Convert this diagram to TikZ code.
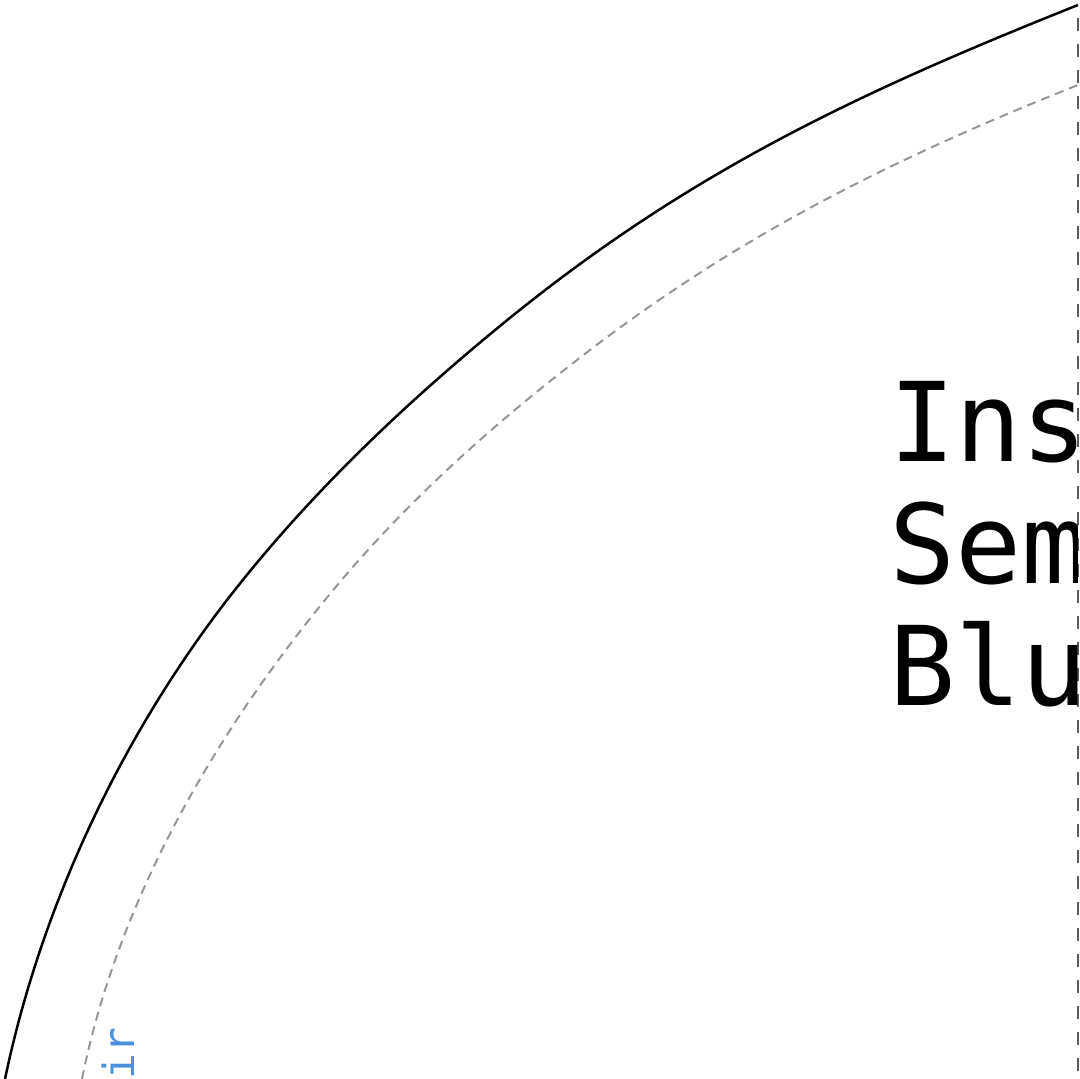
\documentclass[tikz,border=0pt]{standalone}
\usepackage{fontspec}
\newfontfamily\monofont{DejaVu Sans Mono}
\definecolor{curvegray}{RGB}{150,150,150}
\definecolor{axisgray}{RGB}{90,90,90}
\definecolor{labelblue}{RGB}{74,144,220}

\begin{document}
\begin{tikzpicture}[x=0.5pt, y=-0.5pt,
  bigtext/.style={anchor=base west, inner sep=0pt, font=\monofont\fontsize{55pt}{61pt}\selectfont},
  sidetext/.style={anchor=base east, inner sep=0pt, rotate=90, text=labelblue, font=\monofont\fontsize{21.5pt}{24pt}\selectfont}]
\useasboundingbox (0,0) rectangle (1080,1079);
% outer boundary
\draw[black, line width=1.25pt] (5,1079) .. controls (41,907) and (120,739) .. (227,600)
  .. controls (306,498) and (400,408) .. (500,326)
  .. controls (685,174) and (855,94) .. (1078,5);
% inner boundary
\draw[curvegray, line width=1pt, dash pattern=on 4.5pt off 3pt] (82,1079) .. controls (117,904) and (212,738) .. (325,600)
  .. controls (398,510) and (485,431) .. (577,360)
  .. controls (735,237) and (892,159) .. (1078,85);
\coordinate (axtop) at (1078,18);
\coordinate (axbot) at (1078,1079);
\draw[axisgray, line width=1pt, dash pattern=on 6.5pt off 6.5pt] (axtop) -- (axbot);
\begin{scope}
\clip (0,0) rectangle (1077,1079);
\node[bigtext] (ins) at (889,461) {Ins};
\node[bigtext] (sem) at (889,583) {Sem};
\node[bigtext] (blu) at (889,705) {Blu};
\end{scope}
\node[sidetext] (lbl) at (134,1027) {ir};
\end{tikzpicture}
\end{document}
